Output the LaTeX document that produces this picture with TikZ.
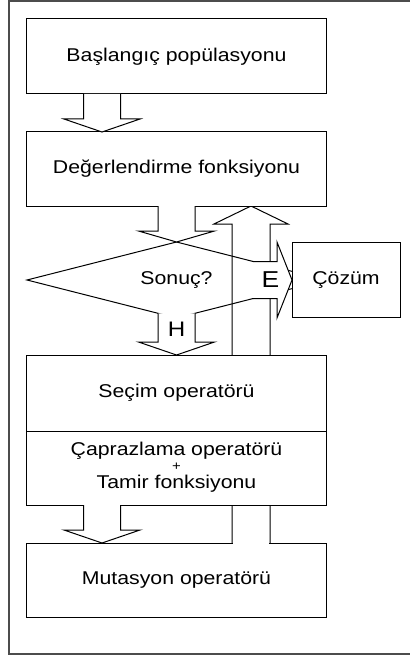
\documentclass[tikz,border=0pt]{standalone}
\usepackage{fontspec}
\setmainfont{Liberation Sans}[FakeStretch=1.15]
\usetikzlibrary{shapes.geometric,calc}
\tikzset{
  box/.style={draw, fill=white, line width=1bp, minimum width=299bp, minimum height=75bp,
    inner sep=0pt, outer sep=0pt, font=\fontsize{18.5bp}{22bp}\selectfont},
  solbox/.style={box, minimum width=108bp},
  dia/.style={diamond, draw, fill=white, line width=1bp, minimum width=299bp, minimum height=76bp,
    aspect=4, inner sep=1bp, outer sep=0pt, font=\fontsize{18.5bp}{22bp}\selectfont},
  txt/.style={inner sep=0pt, outer sep=0pt, font=\fontsize{18.5bp}{22bp}\selectfont},
  smalltxt/.style={inner sep=0pt, outer sep=0pt, font=\fontsize{13bp}{14bp}\selectfont},
  labE/.style={inner sep=0pt, outer sep=0pt, font=\fontsize{23bp}{26bp}\selectfont},
  labH/.style={inner sep=0pt, outer sep=0pt, font=\fontsize{21bp}{24bp}\selectfont},
  barrow/.style={draw, fill=white, line width=1bp, line join=miter},
  uparrow/.style={draw, line width=1bp, line join=miter},
  framecol/.style={draw=black!70, line width=1.1bp}
}
% down block arrow: #1 shaft top centre, #2 tip, #3 head length
\newcommand\downblock[3]{%
  \path[barrow] let \p1=(#1), \p2=(#2) in
    (\x1-18.5bp,\y1) -- (\x1-18.5bp,\y2+#3) -- (\x1-38bp,\y2+#3) -- (\x2,\y2)
    -- (\x1+38bp,\y2+#3) -- (\x1+18.5bp,\y2+#3) -- (\x1+18.5bp,\y1);}
% right block arrow: #1 shaft start centre, #2 tip, #3 head length
\newcommand\rightblock[3]{%
  \path[barrow] let \p1=(#1), \p2=(#2) in
    (\x1,\y1+18.5bp) -- (\x2-#3,\y1+18.5bp) -- (\x2-#3,\y1+38bp) -- (\x2,\y2)
    -- (\x2-#3,\y1-38bp) -- (\x2-#3,\y1-18.5bp) -- (\x1,\y1-18.5bp);}
% up block arrow, outline only: #1 shaft bottom centre, #2 tip, #3 head length
\newcommand\upblock[3]{%
  \path[uparrow] let \p1=(#1), \p2=(#2) in
    (\x1-19bp,\y1) -- (\x1-19bp,\y2-#3) -- (\x1-37bp,\y2-#3) -- (\x2,\y2)
    -- (\x1+37bp,\y2-#3) -- (\x1+19bp,\y2-#3) -- (\x1+19bp,\y1);}
\begin{document}
\begin{tikzpicture}[x=1bp,y=-1bp]
\useasboundingbox (0,0) rectangle (409,656);
% outer frame
\draw[framecol] (410,1) -- (9,1) -- (9,654) -- (410,654);

\coordinate (c1) at (102,0);
\coordinate (c3) at (251,0);
\coordinate (ubot) at (251,543);
\coordinate (utip) at (251,206);
\coordinate (solw) at (292,280);

% decision
\node[dia] (dec) at (176.5,280) {Sonuç?};

% return arrow (outline only, lies under the boxes)
\upblock{ubot}{utip}{18bp}

% boxes
\node[box] (b1) at (176.5,56.5) {Başlangıç popülasyonu};
\node[box, minimum height=74bp] (b2) at (176.5,169) {Değerlendirme fonksiyonu};
\node[box, minimum height=76bp] (b3) at (176.5,393) {Seçim operatörü};
\node[box, minimum height=74bp] (b4) at (176.5,468) {};
\node[box, minimum height=74bp] (b5) at (176.5,580) {Mutasyon operatörü};
\node[txt, anchor=base] (t4a) at (176.5,455) {Çaprazlama operatörü};
\node[smalltxt] (t4b) at (176.5,466.5) {+};
\node[txt, anchor=base] (t4c) at (176.5,488.3) {Tamir fonksiyonu};

% block arrows
\downblock{b1.south -| c1}{b2.north -| c1}{13bp}
\downblock{b2.south -| dec}{dec.north}{11bp}
\downblock{$(dec.south)+(0,-4.7)$}{b3.north}{13bp}
\downblock{b4.south -| c1}{b5.north -| c1}{13bp}
\rightblock{$(dec.east)+(-72.8,0)$}{solw}{15bp}

% solution box
\node[solbox, anchor=west] (sol) at (solw) {Çözüm};

% open the top of the mutation box under the return arrow
\fill[white] let \p1=(b5.north -| c3), \p2=(b4.south -| c3) in
  (\x1-18.4bp,\y1-0.8bp) rectangle (\x1+18.4bp,\y2-0.6bp);

% labels
\node[labE] (lE) at (270.5,280) {E};
\node[labH] (lH) at (176.5,329.2) {H};
\end{tikzpicture}
\end{document}
